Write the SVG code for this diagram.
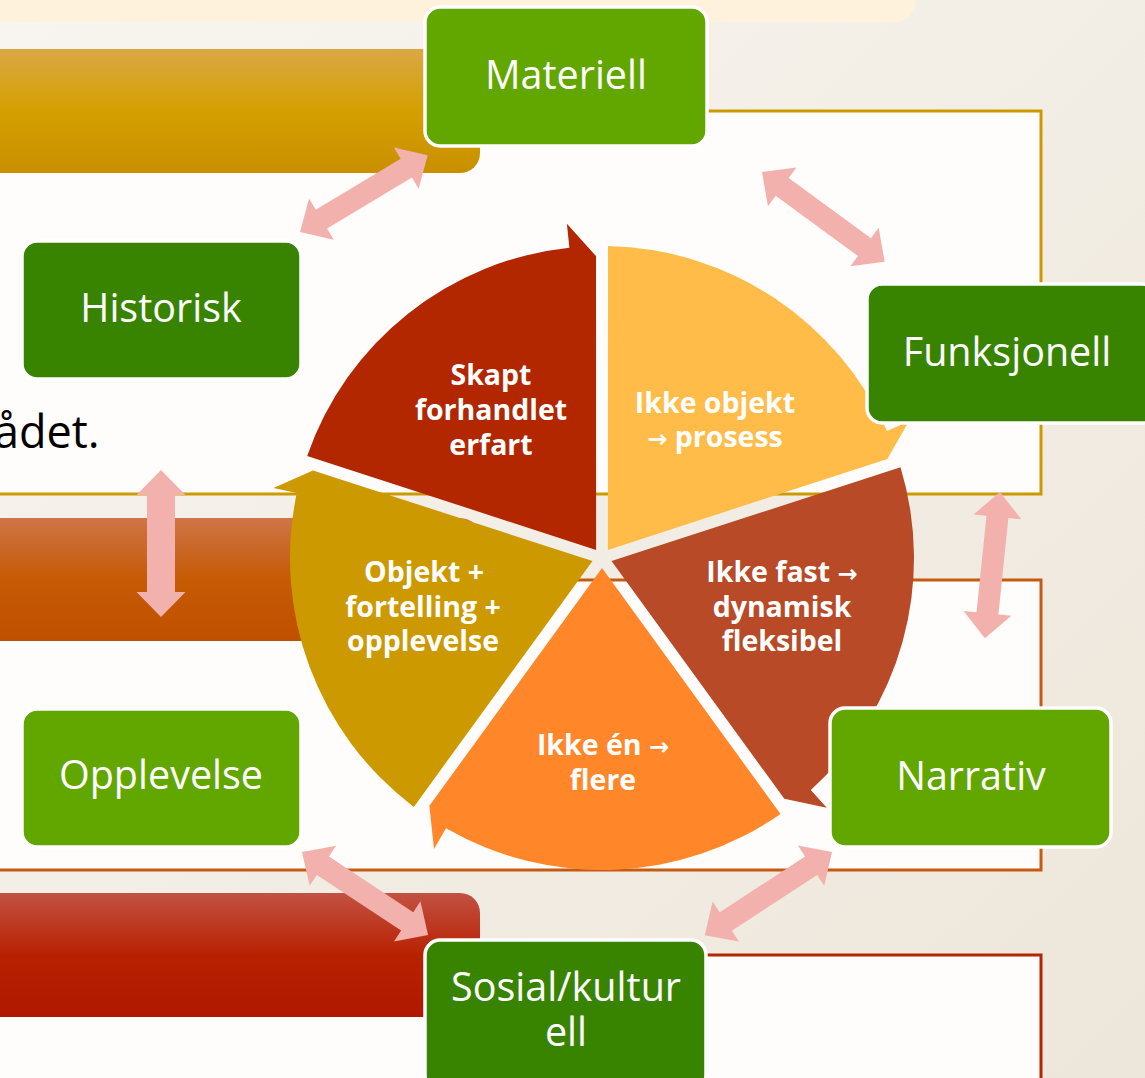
<svg xmlns="http://www.w3.org/2000/svg" width="1145" height="1078" viewBox="0 0 1145 1078">
<defs>
<linearGradient id="bg" x1="0" y1="0" x2="1" y2="1">
<stop offset="0" stop-color="#F8F5F0"/><stop offset="1" stop-color="#EDE6DA"/>
</linearGradient>
<linearGradient id="gGold" x1="0" y1="0" x2="0" y2="1">
<stop offset="0" stop-color="#D9A845"/><stop offset="0.5" stop-color="#D4A000"/><stop offset="1" stop-color="#C98F00"/>
</linearGradient>
<linearGradient id="gOrange" x1="0" y1="0" x2="0" y2="1">
<stop offset="0" stop-color="#CF7548"/><stop offset="0.5" stop-color="#C65A05"/><stop offset="1" stop-color="#BF5000"/>
</linearGradient>
<linearGradient id="gRed" x1="0" y1="0" x2="0" y2="1">
<stop offset="0" stop-color="#C25244"/><stop offset="0.5" stop-color="#B82100"/><stop offset="1" stop-color="#B01800"/>
</linearGradient>
<style>
.panel{fill:#FEFDFB;stroke-width:3}
.node rect{stroke:#FFFFFF;stroke-width:3.5}
.light{fill:#62A600}
.dark{fill:#388400}
.nt{font-family:"Open Sans","Liberation Sans",sans-serif;font-size:39.5px;fill:#FFFFFF;text-anchor:middle}
.st{font-family:"Open Sans","Liberation Sans",sans-serif;font-size:28.5px;font-weight:700;fill:#FFFFFF;text-anchor:middle}
.ar{font-family:"DejaVu Sans",sans-serif;font-weight:700;font-size:24px}
.arr{fill:#F2B1AC}
</style>
</defs>
<rect x="0" y="0" width="1145" height="1078" fill="url(#bg)"/>
<path d="M-10,-10 H915 V2 A20,20 0 0 1 895,22 H-10 Z" fill="#FFF2DC"/>
<g id="background-panels">
<rect class="panel" x="-10" y="111" width="1051" height="383" stroke="#CC9900"/>
<rect class="panel" x="-10" y="580" width="1051" height="290" stroke="#C55A11"/>
<rect class="panel" x="-10" y="955" width="1051" height="140" stroke="#B22600"/>
<path d="M-10,49 H460 A20,20 0 0 1 480,69 V153 A20,20 0 0 1 460,173 H-10 Z" fill="url(#gGold)"/>
<path d="M-10,518 H460 A20,20 0 0 1 480,538 V621 A20,20 0 0 1 460,641 H-10 Z" fill="url(#gOrange)"/>
<path d="M-10,893 H460 A20,20 0 0 1 480,913 V997 A20,20 0 0 1 460,1017 H-10 Z" fill="url(#gRed)"/>
<text x="-6" y="448" font-family="Open Sans, Liberation Sans, sans-serif" font-size="45" fill="#000000">ådet.</text>
</g>
<g id="cycle">
<g id="seg-yellow"><path d="M607.9,549.9 L608.0,246.1 A312,312 0 0 1 887.0,431.1 L908.9,421.3 L887.3,459.0 Z" fill="#FFBC48"/>
<text class="st" x="715" y="413">Ikke objekt</text><text class="st" x="715" y="447"><tspan class="ar">→</tspan> prosess</text></g>
<g id="seg-brown"><path d="M611.5,561.1 L900.5,467.3 A312,312 0 0 1 810.8,789.9 L826.8,807.7 L784.3,798.8 Z" fill="#B84A28"/>
<text class="st" x="782" y="582">Ikke fast <tspan class="ar">→</tspan></text><text class="st" x="782" y="617">dynamisk</text><text class="st" x="782" y="651">fleksibel</text></g>
<g id="seg-orange"><path d="M602,568 L780.5,813.9 A312,312 0 0 1 446,828.2 L434,849 L429.4,805.8 Z" fill="#FF8629"/>
<text class="st" x="603" y="755">Ikke én <tspan class="ar">→</tspan></text><text class="st" x="603" y="790">flere</text></g>
<g id="seg-gold"><path d="M592.5,561.1 L413.8,806.9 A312,312 0 0 1 296.8,493.1 L273.4,488.1 L313.0,470.4 Z" fill="#CC9900"/>
<text class="st" x="424" y="582">Objekt +</text><text class="st" x="423" y="617">fortelling +</text><text class="st" x="423" y="651">opplevelse</text></g>
<g id="seg-red"><path d="M596.1,549.9 L307.2,455.9 A312,312 0 0 1 569.4,247.7 L566.9,223.8 L596.0,256.1 Z" fill="#B22600"/>
<text class="st" x="491" y="385">Skapt</text><text class="st" x="491" y="420">forhandlet</text><text class="st" x="491" y="455">erfart</text></g>
</g>
<g id="connectors">
<path class="arr" transform="translate(300,232) rotate(-31)" d="M0,0 L25,-24 L25,-11 L124,-11 L124,-24 L149,0 L124,24 L124,11 L25,11 L25,24 Z"/>
<path class="arr" transform="translate(762,172) rotate(36.2)" d="M0,0 L25,-24 L25,-11 L127,-11 L127,-24 L152,0 L127,24 L127,11 L25,11 L25,24 Z"/>
<path class="arr" transform="translate(1000,492) rotate(95.9)" d="M0,0 L25,-24 L25,-11 L122,-11 L122,-24 L147,0 L122,24 L122,11 L25,11 L25,24 Z"/>
<path class="arr" transform="translate(832,852) rotate(146.8)" d="M0,0 L25,-24 L25,-11 L127,-11 L127,-24 L152,0 L127,24 L127,11 L25,11 L25,24 Z"/>
<path class="arr" transform="translate(302,852) rotate(33.4)" d="M0,0 L25,-24 L25,-11 L126,-11 L126,-24 L151,0 L126,24 L126,11 L25,11 L25,24 Z"/>
<path class="arr" transform="translate(161,470) rotate(90)" d="M0,0 L25,-24.5 L25,-14 L122,-14 L122,-24.5 L147,0 L122,24.5 L122,14 L25,14 L25,24.5 Z"/>
</g>
<g id="node-materiell" class="node"><rect class="light" x="425" y="7" width="282" height="139" rx="15"/><text class="nt" x="566" y="89">Materiell</text></g>
<g id="node-historisk" class="node"><rect class="dark" x="22" y="241" width="279" height="138" rx="15"/><text class="nt" x="161" y="322">Historisk</text></g>
<g id="node-funksjonell" class="node"><rect class="dark" x="867" y="284" width="290" height="139" rx="15"/><text class="nt" x="1007" y="366">Funksjonell</text></g>
<g id="node-opplevelse" class="node"><rect class="light" x="22" y="709" width="279" height="138" rx="15"/><text class="nt" x="161" y="789">Opplevelse</text></g>
<g id="node-narrativ" class="node"><rect class="light" x="830" y="708" width="281" height="139" rx="15"/><text class="nt" x="971" y="790">Narrativ</text></g>
<g id="node-sosial" class="node"><rect class="dark" x="425" y="940" width="281" height="150" rx="15"/><text class="nt" x="566" y="1001">Sosial/kultur</text><text class="nt" x="566" y="1046">ell</text></g>
</svg>
